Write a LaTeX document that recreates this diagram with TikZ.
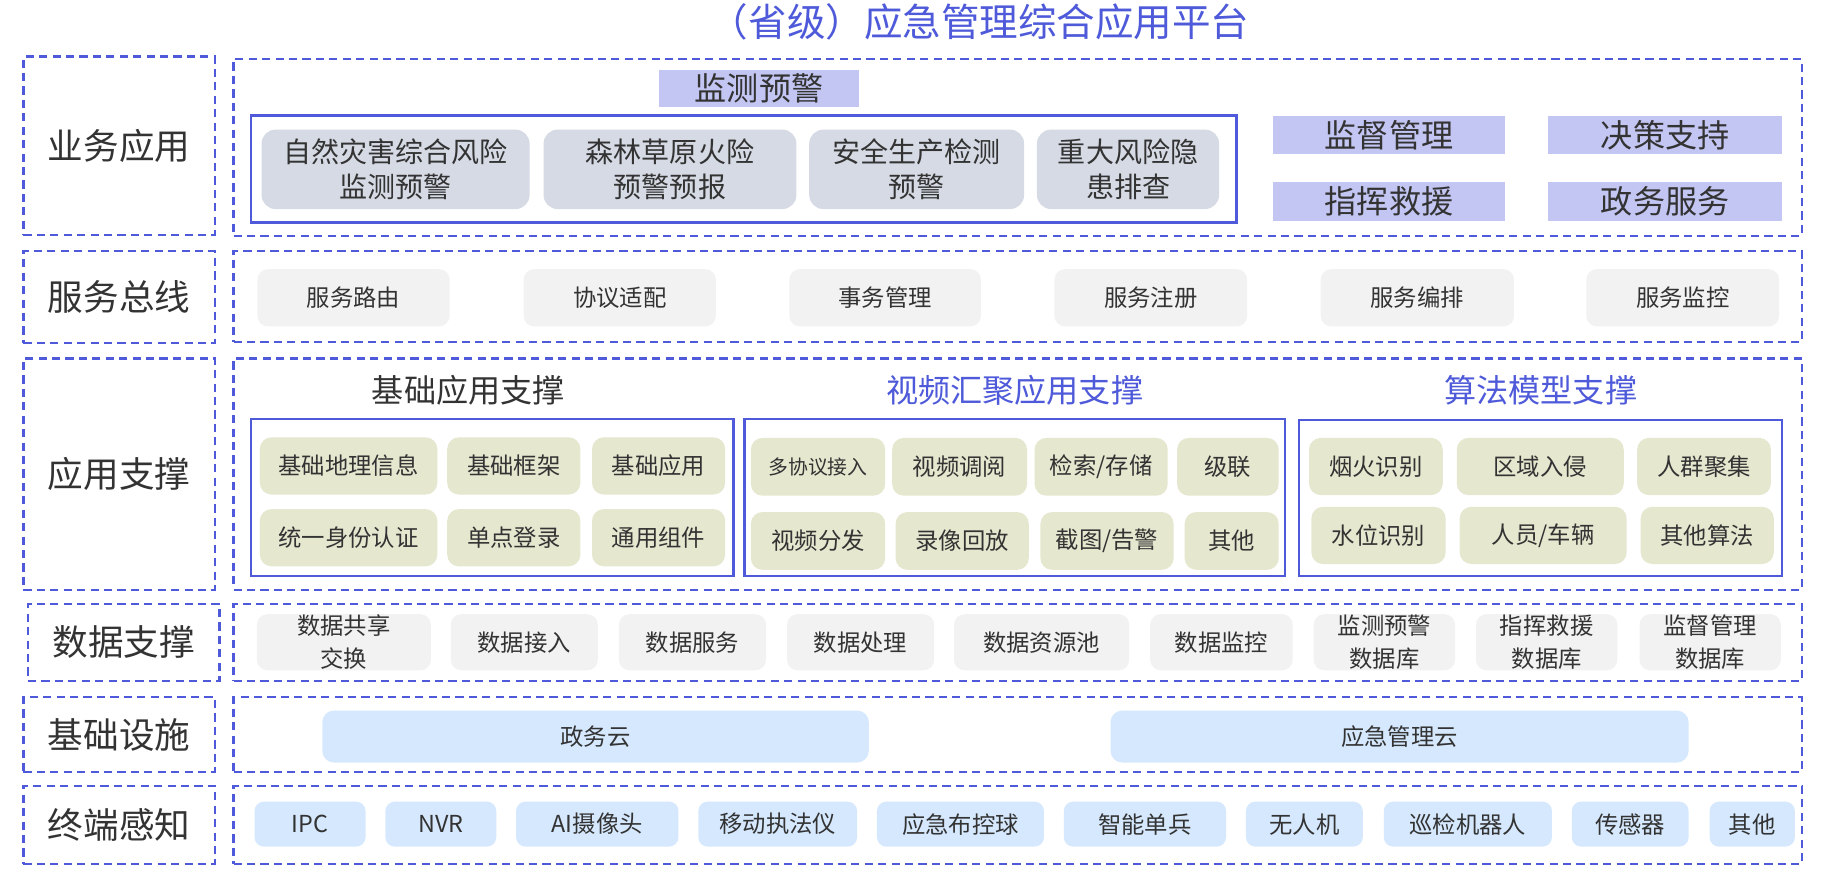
\documentclass[tikz,border=0pt]{standalone}
\usepackage{fontspec}
\setmainfont{Noto Sans CJK SC}
\definecolor{bl}{HTML}{4E5AD9}
\definecolor{lav}{HTML}{C3C6F2}
\definecolor{gb}{HTML}{D5DAE4}
\definecolor{lg}{HTML}{F2F2F2}
\definecolor{ol}{HTML}{E5E7CF}
\definecolor{lb}{HTML}{D5E8FD}
\definecolor{tx}{HTML}{333333}
\newcommand\mybox[7]{\node[#1, minimum width={(#5)-(#3)}, minimum height={(#6)-(#4)}] (#2) at ({((#3)+(#5))/2},{((#4)+(#6))/2}) {#7};}
\tikzset{
 base/.style={inner sep=0pt, outer sep=0pt, text=tx, align=center},
 lbl/.style={base, draw=bl, line width=2pt, dash pattern=on 7pt off 4.5pt, font=\fontsize{30.5}{34}\selectfont},
 area/.style={base, draw=bl, line width=2pt, dash pattern=on 7pt off 4.5pt},
 grp/.style={base, draw=bl, line width=2pt},
 hdr/.style={base, fill=lav, font=\fontsize{27.5}{30}\selectfont},
 card/.style={base, fill=gb, rounded corners=12pt, font=\fontsize{24}{30}\selectfont},
 svc/.style={base, fill=lg, rounded corners=9pt, font=\fontsize{20}{28}\selectfont},
 mod/.style={base, fill=ol, rounded corners=10pt, font=\fontsize{20}{24}\selectfont},
 modsm/.style={mod, font=\fontsize{17}{20}\selectfont},
 cloud/.style={base, fill=lb, rounded corners=10pt, font=\fontsize{20}{24}\selectfont},
 dev/.style={base, fill=lb, rounded corners=8pt, font=\fontsize{20}{24}\selectfont},
 ttl/.style={base, font=\fontsize{27.5}{30}\selectfont},
 maintitle/.style={base, text=bl, font=\fontsize{33}{36}\selectfont}
}
\begin{document}
\begin{tikzpicture}[x=1pt,y=-1pt]
\fill[white] (0,0) rectangle (1568,752);
\useasboundingbox (0,0) rectangle (1568,752);
% title
\node[maintitle] (title) at (839,19) {（省级）应急管理综合应用平台};
% left labels
\mybox{lbl}{l1}{20}{48.5}{184}{201}{业务应用}
\mybox{lbl}{l2}{20}{215}{184}{294}{服务总线}
\mybox{lbl}{l3}{20}{307}{184}{505}{应用支撑}
\mybox{lbl}{l4}{24}{517}{188}{583}{数据支撑}
\mybox{lbl}{l5}{20}{597}{184}{661}{基础设施}
\mybox{lbl}{l6}{20}{673}{184}{740}{终端感知}
% right areas
\mybox{area}{a1}{200}{50.5}{1543}{202}{}
\mybox{area}{a2}{200}{215}{1543}{293}{}
\mybox{area}{a3}{200}{307}{1543}{505}{}
\mybox{area}{a4}{200}{517}{1543}{583}{}
\mybox{area}{a5}{200}{597}{1543}{661}{}
\mybox{area}{a6}{200}{673}{1543}{740}{}
% row 1
\mybox{hdr}{h1}{564}{60}{736}{92}{监测预警}
\mybox{grp}{g1}{215}{99}{1059}{190.5}{}
\mybox{card}{c1}{224}{111}{453.5}{179}{自然灾害综合风险\\监测预警}
\mybox{card}{c2}{465.5}{111}{682}{179}{森林草原火险\\预警预报}
\mybox{card}{c3}{693}{111}{877}{179}{安全生产检测\\预警}
\mybox{card}{c4}{888}{111}{1044}{179}{重大风险隐\\患排查}
\mybox{hdr}{h2}{1090}{99.5}{1289}{132}{监督管理}
\mybox{hdr}{h3}{1326}{99.5}{1526}{132}{决策支持}
\mybox{hdr}{h4}{1090}{156}{1289}{189}{指挥救援}
\mybox{hdr}{h5}{1326}{156}{1526}{189}{政务服务}
% row 2
\mybox{svc}{s1}{220.5}{230.5}{385}{279.5}{服务路由}
\mybox{svc}{s2}{448.5}{230.5}{613}{279.5}{协议适配}
\mybox{svc}{s3}{676}{230.5}{840}{279.5}{事务管理}
\mybox{svc}{s4}{903}{230.5}{1068}{279.5}{服务注册}
\mybox{svc}{s5}{1131}{230.5}{1296.5}{279.5}{服务编排}
\mybox{svc}{s6}{1358.5}{230.5}{1523.5}{279.5}{服务监控}
% row 3
\node[ttl] (t1) at (401,334) {基础应用支撑};
\node[ttl, text=bl] (t2) at (869,334) {视频汇聚应用支撑};
\node[ttl, text=bl] (t3) at (1319.5,334) {算法模型支撑};
\mybox{grp}{g2}{215}{359}{628}{493}{}
\mybox{grp}{g3}{637.5}{359}{1100.5}{493}{}
\mybox{grp}{g4}{1112.5}{359.5}{1526}{493.5}{}
\mybox{mod}{m11}{222.5}{374.5}{374.5}{423.5}{基础地理信息}
\mybox{mod}{m12}{383}{374.5}{497}{423.5}{基础框架}
\mybox{mod}{m13}{507}{374.5}{621}{423.5}{基础应用}
\mybox{mod}{m14}{222.5}{436}{374.5}{485}{统一身份认证}
\mybox{mod}{m15}{383}{436}{497}{485}{单点登录}
\mybox{mod}{m16}{507}{436}{621}{485}{通用组件}
\mybox{modsm}{m21}{643}{375}{758}{424.5}{多协议接入}
\mybox{mod}{m22}{764}{375}{879.5}{424.5}{视频调阅}
\mybox{mod}{m23}{886}{375}{1000}{424.5}{检索/存储}
\mybox{mod}{m24}{1008}{375}{1095}{424.5}{级联}
\mybox{mod}{m25}{643}{438.5}{758}{488}{视频分发}
\mybox{mod}{m26}{767}{438.5}{881}{488}{录像回放}
\mybox{mod}{m27}{891}{438.5}{1005}{488}{截图/告警}
\mybox{mod}{m28}{1014.5}{438.5}{1095}{488}{其他}
\mybox{mod}{m31}{1121}{375}{1235.5}{424}{烟火识别}
\mybox{mod}{m32}{1247.5}{375}{1390.5}{424}{区域入侵}
\mybox{mod}{m33}{1402}{375}{1516.5}{424}{人群聚集}
\mybox{mod}{m34}{1123}{434}{1238}{483}{水位识别}
\mybox{mod}{m35}{1250}{434}{1393}{483}{人员/车辆}
\mybox{mod}{m36}{1405}{434}{1519}{483}{其他算法}
% row 4
\mybox{svc}{d1}{220}{526}{369}{574}{数据共享\\交换}
\mybox{svc}{d2}{386}{526}{512}{574}{数据接入}
\mybox{svc}{d3}{530}{526}{656}{574}{数据服务}
\mybox{svc}{d4}{674}{526}{800}{574}{数据处理}
\mybox{svc}{d5}{817}{526}{967}{574}{数据资源池}
\mybox{svc}{d6}{985}{526}{1107}{574}{数据监控}
\mybox{svc}{d7}{1125}{526}{1246}{574}{监测预警\\数据库}
\mybox{svc}{d8}{1264}{526}{1385}{574}{指挥救援\\数据库}
\mybox{svc}{d9}{1404}{526}{1525}{574}{监督管理\\数据库}
% row 5
\mybox{cloud}{y1}{276}{608.5}{744}{653}{政务云}
\mybox{cloud}{y2}{951}{608.5}{1446}{653}{应急管理云}
% row 6
\mybox{dev}{e1}{218}{686.5}{313}{725}{IPC}
\mybox{dev}{e2}{330}{686.5}{425}{725}{NVR}
\mybox{dev}{e3}{442}{686.5}{581}{725}{AI摄像头}
\mybox{dev}{e4}{598}{686.5}{734}{725}{移动执法仪}
\mybox{dev}{e5}{751}{686.5}{894}{725}{应急布控球}
\mybox{dev}{e6}{911}{686.5}{1050}{725}{智能单兵}
\mybox{dev}{e7}{1067}{686.5}{1167}{725}{无人机}
\mybox{dev}{e8}{1185}{686.5}{1329}{725}{巡检机器人}
\mybox{dev}{e9}{1346}{686.5}{1446}{725}{传感器}
\mybox{dev}{e10}{1464}{686.5}{1537}{725}{其他}
\end{tikzpicture}
\end{document}
